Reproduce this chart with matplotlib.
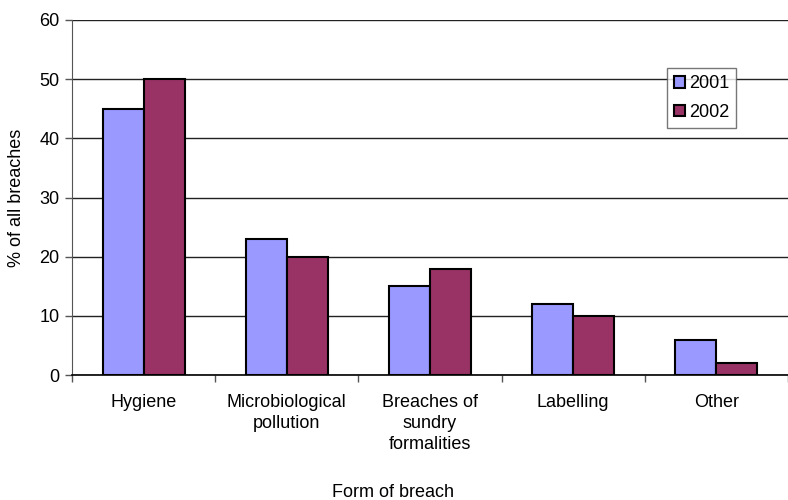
import matplotlib.pyplot as plt
import numpy as np

plt.rcParams["font.family"] = ["Liberation Sans", "DejaVu Sans"]

categories = ["Hygiene", "Microbiological\npollution", "Breaches of\nsundry\nformalities",
              "Labelling", "Other"]
years = ["2001", "2002"]
values_2001 = [45, 23, 15, 12, 6]
values_2002 = [50, 20, 18, 10, 2]
colors = ["#9999FF", "#993366"]
fs = 13

fig = plt.figure(figsize=(7.88, 5.0), dpi=100)
ax = fig.add_axes([72 / 788, 125 / 500, 716 / 788, 355 / 500])

x = np.arange(len(categories))
width = 0.286
ax.bar(x - width / 2, values_2001, width, color=colors[0], edgecolor="black",
       linewidth=1.5, label=years[0], zorder=3)
ax.bar(x + width / 2, values_2002, width, color=colors[1], edgecolor="black",
       linewidth=1.5, label=years[1], zorder=3)

ax.set_xlim(-0.5, len(categories) - 0.5)
ax.set_ylim(0, 60)
ax.set_yticks(np.arange(0, 61, 10))
ax.yaxis.grid(True, color="#222222", linewidth=1)
ax.set_axisbelow(True)

# category names sit between boundary ticks
ax.set_xticks(np.arange(len(categories) + 1) - 0.5)
ax.set_xticklabels([])
ax.set_xticks(x, minor=True)
ax.set_xticklabels(categories, minor=True, fontsize=fs, linespacing=1.3,
                   va="top")
ax.tick_params(axis="x", which="minor", length=0, pad=14)
ax.tick_params(axis="x", which="major", length=5, width=1, color="#555555")
ax.tick_params(axis="y", length=5, width=1, color="#555555", labelsize=fs, pad=4)

for side in ("top", "right"):
    ax.spines[side].set_visible(False)
ax.spines["left"].set_color("#555555")
ax.spines["bottom"].set_color("black")
ax.spines["bottom"].set_linewidth(1.2)

ax.set_ylabel("% of all breaches", fontsize=fs)
ax.yaxis.set_label_coords(-(72 - 25) / 716, 0.5)
ax.set_xlabel("Form of breach", fontsize=fs)
ax.xaxis.set_label_coords((393 - 72) / 716, -(484 - 375) / 355)

leg = ax.legend(loc="upper left", bbox_to_anchor=((667 - 72) / 716, (375 - 68) / 355),
                fontsize=fs, frameon=True, fancybox=False, edgecolor="#555555",
                handlelength=0.6, handleheight=0.6, handletextpad=0.2,
                borderpad=0.4, labelspacing=0.65, borderaxespad=0)
leg.get_frame().set_linewidth(1)

fig.savefig("out.png", dpi=100)
